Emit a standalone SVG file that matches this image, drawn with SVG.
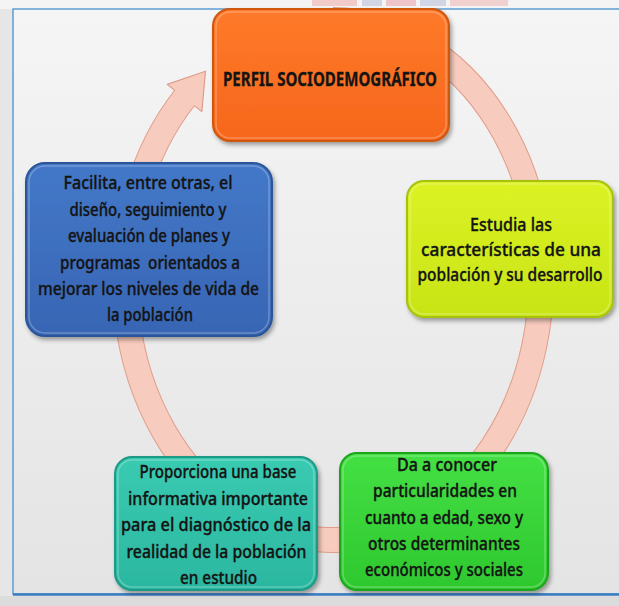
<svg xmlns="http://www.w3.org/2000/svg" width="619" height="606" viewBox="0 0 619 606">
<defs>
<linearGradient id="bg" x1="0" y1="0" x2="0" y2="1">
<stop offset="0" stop-color="#f5f5f5"/><stop offset="1" stop-color="#e4e4e4"/>
</linearGradient>
<linearGradient id="gOr" x1="0" y1="0" x2="0" y2="1">
<stop offset="0" stop-color="#ff7a2a"/><stop offset="1" stop-color="#f6661c"/>
</linearGradient>
<linearGradient id="gBl" x1="0" y1="0" x2="0" y2="1">
<stop offset="0" stop-color="#4478c8"/><stop offset="1" stop-color="#3765b4"/>
</linearGradient>
<linearGradient id="gYe" x1="0" y1="0" x2="0" y2="1">
<stop offset="0" stop-color="#dcf224"/><stop offset="1" stop-color="#c8e416"/>
</linearGradient>
<linearGradient id="gTe" x1="0" y1="0" x2="0" y2="1">
<stop offset="0" stop-color="#3acab2"/><stop offset="1" stop-color="#2bb7a0"/>
</linearGradient>
<linearGradient id="gGr" x1="0" y1="0" x2="0" y2="1">
<stop offset="0" stop-color="#44e044"/><stop offset="1" stop-color="#2ec82e"/>
</linearGradient>
<filter id="sh" x="-10%" y="-10%" width="125%" height="130%">
<feDropShadow dx="2" dy="3" stdDeviation="2" flood-color="#000" flood-opacity="0.35"/>
</filter>
<style>
.t{font-family:"Noto Sans","Liberation Sans",sans-serif;font-size:18.5px;font-weight:500;fill:#141414;stroke:#141414;stroke-width:0.35;text-anchor:middle;white-space:pre}
.tb{font-family:"Noto Sans","Liberation Sans",sans-serif;font-size:19px;font-weight:bold;fill:#141414;stroke:#141414;stroke-width:0.3;text-anchor:middle}
.box{filter:url(#sh);stroke-width:2}
.hl{fill:none;stroke:#fff;stroke-opacity:0.25;stroke-width:1.5}
</style>
</defs>
<rect x="0" y="0" width="619" height="606" fill="#e6e6e6"/>
<rect x="0" y="0" width="619" height="9" fill="#f4f4f4"/>
<g opacity="0.55">
<rect x="312" y="0" width="45" height="6" fill="#f0a8a8"/>
<rect x="362" y="0" width="20" height="6" fill="#b8bfd8"/>
<rect x="386" y="0" width="30" height="6" fill="#e8a0a8"/>
<rect x="420" y="0" width="26" height="6" fill="#b8bfd8"/>
<rect x="450" y="0" width="58" height="6" fill="#f0b4b4"/>
</g>
<rect x="13" y="9" width="610" height="585" fill="url(#bg)" stroke="#5b9fd4" stroke-width="1.5"/>
<line x1="13" y1="594.5" x2="619" y2="594.5" stroke="#3a7cc0" stroke-width="2.5"/>
<rect x="0" y="596" width="619" height="10" fill="#dcdcdc"/>

<g id="connectors">
<path d="M333,20 A208,260 0 1 1 184.5,98" fill="none" stroke="#e09c8a" stroke-width="26"/>
<polygon points="167.2,84.4 205.5,71.2 201.8,111.6" fill="#f7cbbd" stroke="#e09c8a" stroke-width="1.2" stroke-linejoin="round"/>
<path d="M333,20 A208,260 0 1 1 184.5,98 l1.3,-1.7" fill="none" stroke="#f7cbbd" stroke-width="24"/>
</g>

<g id="perfil">
<rect class="box" x="213" y="9" width="236" height="132" rx="17" fill="url(#gOr)" stroke="#cf5610"/>
<rect class="hl" x="216" y="12" width="230" height="126" rx="14"/>
<text class="tb" x="330" y="86" textLength="214" lengthAdjust="spacingAndGlyphs">PERFIL SOCIODEMOGRÁFICO</text>
</g>

<g id="facilita">
<rect class="box" x="26" y="163" width="246" height="173" rx="19" fill="url(#gBl)" stroke="#2a5598"/>
<rect class="hl" x="29" y="166" width="240" height="167" rx="16"/>
<text class="t" x="148" y="189" textLength="169" lengthAdjust="spacingAndGlyphs">Facilita, entre otras, el</text>
<text class="t" x="148" y="215.5" textLength="157" lengthAdjust="spacingAndGlyphs">diseño, seguimiento y</text>
<text class="t" x="149" y="242" textLength="162" lengthAdjust="spacingAndGlyphs">evaluación de planes y</text>
<text class="t" x="150" y="268.5" textLength="180" lengthAdjust="spacingAndGlyphs" xml:space="preserve">programas  orientados a</text>
<text class="t" x="148.5" y="295" textLength="221" lengthAdjust="spacingAndGlyphs">mejorar los niveles de vida de</text>
<text class="t" x="150" y="321" textLength="86" lengthAdjust="spacingAndGlyphs">la población</text>
</g>

<g id="estudia">
<rect class="box" x="407" y="181" width="206" height="136" rx="17" fill="url(#gYe)" stroke="#a6c20e"/>
<rect class="hl" x="410" y="184" width="200" height="130" rx="14"/>
<text class="t" x="511" y="231" textLength="82" lengthAdjust="spacingAndGlyphs">Estudia las</text>
<text class="t" x="511" y="256" textLength="180" lengthAdjust="spacingAndGlyphs">características de una</text>
<text class="t" x="510" y="281" textLength="185" lengthAdjust="spacingAndGlyphs">población y su desarrollo</text>
</g>

<g id="proporciona">
<rect class="box" x="115" y="457" width="202" height="133" rx="17" fill="url(#gTe)" stroke="#1f9a86"/>
<rect class="hl" x="118" y="460" width="196" height="127" rx="14"/>
<text class="t" x="218" y="478" textLength="157" lengthAdjust="spacingAndGlyphs">Proporciona una base</text>
<text class="t" x="218" y="504.5" textLength="180" lengthAdjust="spacingAndGlyphs">informativa importante</text>
<text class="t" x="216" y="531" textLength="190" lengthAdjust="spacingAndGlyphs">para el diagnóstico de la</text>
<text class="t" x="216.5" y="557.5" textLength="180" lengthAdjust="spacingAndGlyphs">realidad de la población</text>
<text class="t" x="218.5" y="584" textLength="77" lengthAdjust="spacingAndGlyphs">en estudio</text>
</g>

<g id="da-a-conocer">
<rect class="box" x="340" y="453" width="208" height="137" rx="17" fill="url(#gGr)" stroke="#1fa51f"/>
<rect class="hl" x="343" y="456" width="202" height="131" rx="14"/>
<text class="t" x="447" y="471" textLength="100" lengthAdjust="spacingAndGlyphs">Da a conocer</text>
<text class="t" x="445" y="497" textLength="144" lengthAdjust="spacingAndGlyphs">particularidades en</text>
<text class="t" x="444" y="523.5" textLength="158" lengthAdjust="spacingAndGlyphs">cuanto a edad, sexo y</text>
<text class="t" x="444" y="550" textLength="152" lengthAdjust="spacingAndGlyphs">otros determinantes</text>
<text class="t" x="444" y="576" textLength="158" lengthAdjust="spacingAndGlyphs">económicos y sociales</text>
</g>
</svg>
